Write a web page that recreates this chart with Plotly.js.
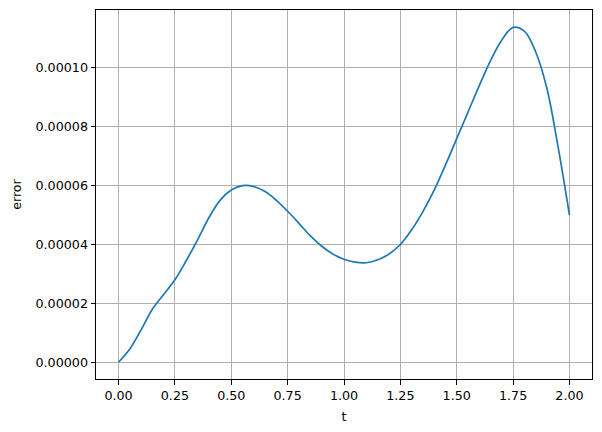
<!DOCTYPE html>
<html>
<head>
<meta charset="utf-8">
<script src="https://cdn.plot.ly/plotly-3.0.1.min.js"></script>
<style>html,body{margin:0;padding:0;background:#fff;}#chart{width:602px;height:432px;}</style>
</head>
<body>
<div id="chart"></div>
<script>
const t = [0, 0.05, 0.1, 0.15, 0.2, 0.25, 0.3, 0.35, 0.4, 0.45, 0.5, 0.55, 0.6, 0.65, 0.7, 0.75, 0.8, 0.85, 0.9, 0.95, 1.0, 1.05, 1.1, 1.15, 1.2, 1.25, 1.3, 1.35, 1.4, 1.45, 1.5, 1.55, 1.6, 1.65, 1.7, 1.75, 1.8, 1.85, 1.9, 1.95, 2.0];
const errorE5 = [0, 0.45, 1.1, 1.8, 2.3, 2.8, 3.45, 4.15, 4.9, 5.5, 5.85, 6.0, 5.97, 5.8, 5.5, 5.13, 4.72, 4.3, 3.95, 3.68, 3.5, 3.4, 3.38, 3.48, 3.68, 4.0, 4.5, 5.12, 5.85, 6.7, 7.6, 8.5, 9.4, 10.25, 10.95, 11.38, 11.25, 10.55, 9.3, 7.3, 5.0];
const error = errorE5.map(v => v * 1e-5);
const xTicks = [0, 0.25, 0.5, 0.75, 1.0, 1.25, 1.5, 1.75, 2.0];
const yTicks = [0, 0.00002, 0.00004, 0.00006, 0.00008, 0.0001];

const font = {family: 'DejaVu Sans', size: 12.7, color: '#000'};
const trace = {
  x: t, y: error, type: 'scatter', mode: 'lines',
  line: {color: '#1f77b4', width: 1.7, shape: 'spline', smoothing: 1},
  hoverinfo: 'x+y'
};
const layout = {
  width: 602, height: 432,
  margin: {l: 96, r: 10, t: 10, b: 53, pad: 0},
  paper_bgcolor: '#fff', plot_bgcolor: '#fff',
  showlegend: false,
  font: font,
  xaxis: {
    range: [-0.1, 2.1], tickvals: xTicks, tickformat: '.2f',
    showgrid: true, gridcolor: '#b0b0b0', gridwidth: 1,
    zeroline: false, showline: true, linecolor: '#000', linewidth: 1, mirror: true,
    ticks: 'outside', ticklen: 4.5, tickwidth: 1, tickcolor: '#000',
    tickfont: font, automargin: false,
    title: {text: 't', font: font, standoff: 10}
  },
  yaxis: {
    range: [-0.0000057, 0.0001197], tickvals: yTicks, tickformat: '.5f',
    showgrid: true, gridcolor: '#b0b0b0', gridwidth: 1,
    zeroline: false, showline: true, linecolor: '#000', linewidth: 1, mirror: true,
    ticks: 'outside', ticklen: 4.5, tickwidth: 1, tickcolor: '#000',
    tickfont: font, automargin: false,
    title: {text: 'error', font: font, standoff: 11}
  }
};
Plotly.newPlot('chart', [trace], layout, {displayModeBar: false, staticPlot: true});
</script>
</body>
</html>
